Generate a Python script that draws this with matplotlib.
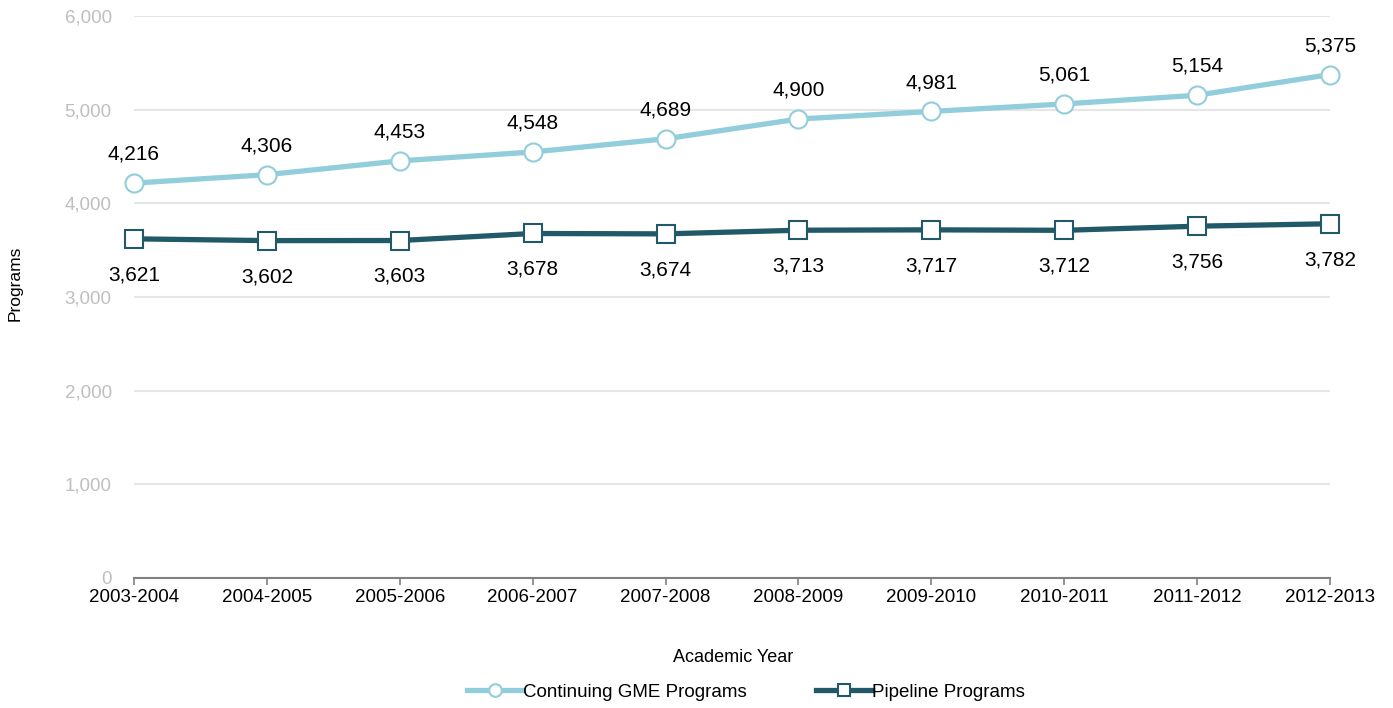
import numpy as np
import matplotlib as mp
from matplotlib import pyplot as plt
import matplotlib.ticker as mticker

plt.rcParams['font.family'] = ['Liberation Sans', 'DejaVu Sans']

years = ["2003-2004", "2004-2005", "2005-2006", "2006-2007", "2007-2008",
         "2008-2009", "2009-2010", "2010-2011", "2011-2012", "2012-2013"]
continuing = [4216, 4306, 4453, 4548, 4689, 4900, 4981, 5061, 5154, 5375]
pipeline = [3621, 3602, 3603, 3678, 3674, 3713, 3717, 3712, 3756, 3782]

light_color = "#92cddc"
dark_color = "#215968"

fig = plt.figure(figsize=(13.93, 7.08), dpi=100)
ax = fig.add_axes([134/1393, 130/708, (1330-134)/1393, (578-16)/708])

x = np.arange(len(years))
ax.plot(x, continuing, '-', color=light_color, linewidth=3.8, marker='o',
        markersize=13, markerfacecolor='white', markeredgecolor=light_color,
        markeredgewidth=1.5, clip_on=False, zorder=3, label="Continuing GME Programs")
ax.plot(x, pipeline, '-', color=dark_color, linewidth=3.8, marker='s',
        markersize=13, markerfacecolor='white', markeredgecolor=dark_color,
        markeredgewidth=1.5, clip_on=False, zorder=3, label="Pipeline Programs")

for xi, v in zip(x, continuing):
    ax.annotate(format(v, ','), (xi, v), xytext=(0, 14), textcoords='offset points',
                ha='center', va='bottom', fontsize=15, color='black')
for xi, v in zip(x, pipeline):
    ax.annotate(format(v, ','), (xi, v), xytext=(0, -19), textcoords='offset points',
                ha='center', va='top', fontsize=15, color='black')

ax.set_xlim(0, len(years) - 1)
ax.set_ylim(0, 6000)
ax.set_xticks(x)
ax.set_xticklabels(years, fontsize=13.5)
ax.set_yticks(np.arange(0, 6001, 1000))
ax.yaxis.set_major_formatter(mticker.FuncFormatter(lambda v, p: format(int(v), ',')))
ax.tick_params(axis='y', colors='#bfbfbf', labelsize=13.5, length=0, pad=16)
ax.tick_params(axis='x', colors='#808080', labelcolor='black', length=5, width=1.2, pad=3)
ax.grid(axis='y', color='#e6e6e6', linewidth=1.5)
ax.set_axisbelow(True)
for s in ['top', 'right', 'left']:
    ax.spines[s].set_visible(False)
ax.spines['bottom'].set_color('#808080')
ax.spines['bottom'].set_linewidth(1.5)

fig.text(15/1393, 1 - 283/708, "Programs", rotation=90, ha='center', va='center', fontsize=12.5)
fig.text(733/1393, 1 - 657/708, "Academic Year", ha='center', va='center', fontsize=13)

fig.legend(loc='center', bbox_to_anchor=(746/1393, 1 - 692/708), ncol=2, frameon=False,
           fontsize=13.5, handlelength=3.0, handletextpad=0.0, columnspacing=3.7,
           markerscale=0.7)

plt.savefig("out.png", dpi=100)
